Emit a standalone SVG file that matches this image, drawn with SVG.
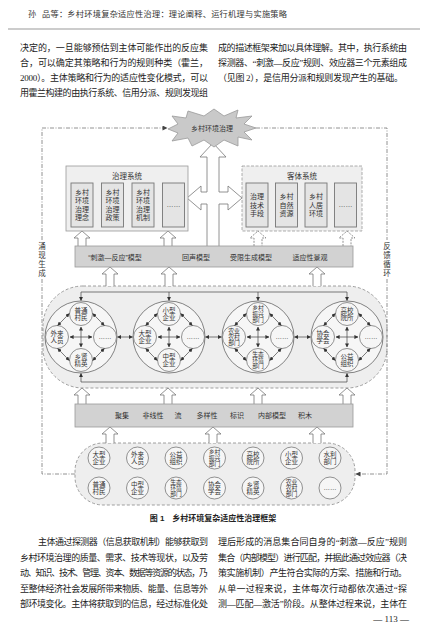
<svg xmlns="http://www.w3.org/2000/svg" width="427" height="630" viewBox="0 0 427 630">
<defs>
<style>
.body{font-family:"Liberation Serif","Noto Sans CJK SC",serif;font-size:9px;fill:#222}
.hdr{font-family:"Liberation Serif","Noto Sans CJK SC",serif;font-size:8.2px;fill:#333}
.d{font-family:"Liberation Sans","Noto Sans CJK SC",sans-serif;fill:#333;text-anchor:middle;font-size:7px}
.s{font-size:6.5px}
.s3{font-size:5.8px}
.cap{font-family:"Liberation Sans","Noto Sans CJK SC",sans-serif;font-size:8px;font-weight:bold;fill:#222;text-anchor:middle}
.sys{fill:#efefef;stroke:#999;stroke-width:0.8}
.sysd{fill:#efefef;stroke:#999;stroke-width:0.8;stroke-dasharray:3 1.5}
.inner{fill:#e4e4e4;stroke:#777;stroke-width:0.9}
.bar{fill:#d2d2d2;stroke:#9a9a9a;stroke-width:0.8}
.hol{fill:#fff;stroke:#777;stroke-width:0.8}
.hold{fill:#fff;stroke:#777;stroke-width:0.8;stroke-dasharray:2 1.2}
.region{fill:#eeeeee;stroke:#888;stroke-width:0.8;stroke-dasharray:3 2}
.big{fill:#f6f6f6;stroke:#666;stroke-width:0.8}
.sm{fill:#f6f6f6;stroke:#666;stroke-width:0.7}
.ar{fill:none;stroke:#444;stroke-width:0.7;marker-start:url(#ah);marker-end:url(#ah)}
.ar1{fill:none;stroke:#444;stroke-width:0.7;marker-end:url(#ah)}
.ln{fill:none;stroke:#444;stroke-width:0.7}
.loop{fill:none;stroke:#777;stroke-width:0.8;stroke-dasharray:4 1.5 1 1.5}
</style>
<marker id="ah" viewBox="0 0 10 10" refX="9" refY="5" markerWidth="4" markerHeight="4" markerUnits="userSpaceOnUse" orient="auto-start-reverse"><path d="M0,0 L10,5 L0,10 z" fill="#333"/></marker>
<marker id="al" viewBox="0 0 10 10" refX="9" refY="5" markerWidth="6" markerHeight="5" markerUnits="userSpaceOnUse" orient="auto"><path d="M0,0 L10,5 L0,10 z" fill="#444"/></marker>
</defs>
<rect width="427" height="630" fill="#fff"/>

<g id="page-text">
<text class="hdr" x="28" y="17">孙</text>
<text class="hdr" x="42" y="17" textLength="245" lengthAdjust="spacing">品等：乡村环境复杂适应性治理：理论阐释、运行机理与实施策略</text>
<line x1="8" y1="29" x2="420" y2="29" stroke="#999" stroke-width="1.2"/>
<text class="body" x="20" y="50.5" textLength="188" lengthAdjust="spacing">决定的，一旦能够预估到主体可能作出的反应集</text>
<text class="body" x="20" y="65.5" textLength="188" lengthAdjust="spacing">合，可以确定其策略和行为的规则种类（霍兰，</text>
<text class="body" x="20" y="80.5" textLength="188" lengthAdjust="spacing">2000）。主体策略和行为的适应性变化模式，可以</text>
<text class="body" x="20" y="95.5" textLength="188" lengthAdjust="spacing">用霍兰构建的由执行系统、信用分派、规则发现组</text>
<text class="body" x="218" y="50.5" textLength="189" lengthAdjust="spacing">成的描述框架来加以具体理解。其中，执行系统由</text>
<text class="body" x="218" y="65.5" textLength="189" lengthAdjust="spacing">探测器、“刺激—反应”规则、效应器三个元素组成</text>
<text class="body" x="218" y="80.5" textLength="185" lengthAdjust="spacing">（见图 2），是信用分派和规则发现产生的基础。</text>
<text class="cap" x="213" y="521">图 1　乡村环境复杂适应性治理框架</text>
<text class="body" x="38" y="545" textLength="170" lengthAdjust="spacing">主体通过探测器（信息获取机制）能够获取到</text>
<text class="body" x="20" y="560.5" textLength="188" lengthAdjust="spacing">乡村环境治理的质量、需求、技术等现状，以及劳</text>
<text class="body" x="20" y="576" textLength="188" lengthAdjust="spacing">动、知识、技术、管理、资本、数据等资源的状态，乃</text>
<text class="body" x="20" y="591.5" textLength="188" lengthAdjust="spacing">至整体经济社会发展所带来物质、能量、信息等外</text>
<text class="body" x="20" y="607" textLength="188" lengthAdjust="spacing">部环境变化。主体将获取到的信息，经过标准化处</text>
<text class="body" x="218" y="545" textLength="189" lengthAdjust="spacing">理后形成的消息集合同自身的“刺激—反应”规则</text>
<text class="body" x="218" y="560.5" textLength="189" lengthAdjust="spacing">集合（内部模型）进行匹配，并据此通过效应器（决</text>
<text class="body" x="218" y="576" textLength="189" lengthAdjust="spacing">策实施机制）产生符合实际的方案、措施和行动。</text>
<text class="body" x="218" y="591.5" textLength="189" lengthAdjust="spacing">从单一过程来说，主体每次行动都依次通过“探</text>
<text class="body" x="218" y="607" textLength="189" lengthAdjust="spacing">测—匹配—激活”阶段。从整体过程来说，主体在</text>
<text class="body" x="409" y="622" text-anchor="end">— 113 —</text>
</g>

<g id="region-middle"><rect class="region" x="43" y="286" width="344" height="102" rx="40"/></g>
<g id="region-bottom"><rect class="region" x="75" y="443" width="280" height="62" rx="28"/></g>

<g id="connectors">
<path class="loop" d="M75,474 H42 V279"/>
<path class="loop" d="M42,240 V128 H167" marker-end="url(#al)"/>
<path class="loop" d="M256,128 H387 V240"/>
<path class="loop" d="M387,279 V474 H356" marker-end="url(#al)"/>
<text class="d" style="font-size:7.5px" x="42"><tspan x="42" y="248.8">涌</tspan><tspan x="42" y="257.8">现</tspan><tspan x="42" y="266.8">生</tspan><tspan x="42" y="275.8">成</tspan></text>
<text class="d" style="font-size:7.5px" x="387"><tspan x="387" y="248.8">反</tspan><tspan x="387" y="257.8">馈</tspan><tspan x="387" y="266.8">循</tspan><tspan x="387" y="275.8">环</tspan></text>
<path class="hol" d="M207,246 V204 H201 V210 L187,198 L201,186 V192 H207 V157 H200 L213,143 L226,157 H219 V192 H228 V186 L242,198 L228,210 V204 H219 V246"/>
<path class="hol" d="M78,246 V238 H74 L82,231 L90,238 H86 V246"/>
<path class="hol" d="M164,246 V238 H160 L168,231 L176,238 H172 V246"/>
<path class="hold" d="M254,246 V238 H250 L258,231 L266,238 H262 V246"/>
<path class="hold" d="M343,246 V238 H339 L347,231 L355,238 H351 V246"/>
<path class="hol" d="M106,286 V274 H102 L110,267 L118,274 H114 V286"/>
<path class="hol" d="M165,286 V274 H161 L169,267 L177,274 H173 V286"/>
<path class="hol" d="M313,286 V274 H309 L317,267 L325,274 H321 V286"/>
<path class="hol" d="M78,404 V395 H74 L82,388 L90,395 H86 V404"/>
<path class="hol" d="M164,404 V395 H160 L168,388 L176,395 H172 V404"/>
<path class="hol" d="M254,404 V395 H250 L258,388 L266,395 H262 V404"/>
<path class="hol" d="M343,404 V395 H339 L347,388 L355,395 H351 V404"/>
<path class="hol" d="M106,443 V434 H102 L110,427 L118,434 H114 V443"/>
<path class="hol" d="M209,443 V434 H205 L213,427 L221,434 H217 V443"/>
<path class="hol" d="M313,443 V434 H309 L317,427 L325,434 H321 V443"/>
<path class="ln" d="M81,292 H347"/>
<path class="ar1" d="M81,292 V300.5"/>
<path class="ar1" d="M169,292 V300.5"/>
<path class="ar1" d="M258,292 V300.5"/>
<path class="ar1" d="M347,292 V300.5"/>
<path class="ln" d="M81,382 H347"/>
<path class="ar1" d="M81,382 V373.5"/>
<path class="ar1" d="M347,382 V373.5"/>
<path class="ar" d="M117.5,337 H132.5"/>
<path class="ar" d="M205.5,337 H221.5"/>
<path class="ar" d="M294.5,337 H310.5"/>
</g>

<g id="cloud">
<polygon points="256,128 244,124 252,116 236,118 238,110 224,116 214,109 204,116 188,111 186,118 172,116 178,124 168,129 178,133 172,141 188,138 192,146 204,140 214,147 224,140 238,146 238,137 252,140 244,132" fill="#c9c9c9" stroke="#999" stroke-width="0.8"/>
<text class="d" x="212" y="131">乡村环境治理</text>
</g>

<g id="governance-system">
<rect class="sys" x="66" y="166" width="122" height="65"/>
<text class="d" style="font-size:7.5px" x="127" y="178.5">治理系统</text>
<rect class="inner" x="71" y="183" width="22" height="44"/>
<text class="d"><tspan x="82" y="194.5">乡村</tspan><tspan x="82" y="203">环境</tspan><tspan x="82" y="211.5">治理</tspan><tspan x="82" y="220">理念</tspan></text>
<rect class="inner" x="101.5" y="183" width="22" height="44"/>
<text class="d"><tspan x="112.5" y="194.5">乡村</tspan><tspan x="112.5" y="203">环境</tspan><tspan x="112.5" y="211.5">治理</tspan><tspan x="112.5" y="220">政策</tspan></text>
<rect class="inner" x="132" y="183" width="22" height="44"/>
<text class="d"><tspan x="143" y="194.5">乡村</tspan><tspan x="143" y="203">环境</tspan><tspan x="143" y="211.5">治理</tspan><tspan x="143" y="220">机制</tspan></text>
<rect class="inner" x="162.5" y="183" width="22" height="44"/>
<text class="d" x="173.5" y="207">……</text>
</g>

<g id="object-system">
<rect class="sysd" x="242" y="166" width="120" height="65"/>
<text class="d" style="font-size:7.5px" x="302" y="178.5">客体系统</text>
<rect class="inner" x="246" y="183" width="22" height="44"/>
<text class="d"><tspan x="257" y="199">治理</tspan><tspan x="257" y="207.5">技术</tspan><tspan x="257" y="216">手段</tspan></text>
<rect class="inner" x="275.5" y="183" width="22" height="44"/>
<text class="d"><tspan x="286.5" y="199">乡村</tspan><tspan x="286.5" y="207.5">自然</tspan><tspan x="286.5" y="216">资源</tspan></text>
<rect class="inner" x="305" y="183" width="22" height="44"/>
<text class="d"><tspan x="316" y="199">乡村</tspan><tspan x="316" y="207.5">人居</tspan><tspan x="316" y="216">环境</tspan></text>
<rect class="inner" x="334.5" y="183" width="22" height="44"/>
<text class="d" x="345.5" y="207">……</text>
</g>

<g id="model-bar">
<rect class="bar" x="75" y="246" width="278" height="21"/>
<text class="d" x="115" y="259.5">“刺激—反应”模型</text>
<text class="d" x="196" y="259.5">回声模型</text>
<text class="d" x="251" y="259.5">受限生成模型</text>
<text class="d" x="310" y="259.5">适应性景观</text>
</g>

<g id="feature-bar">
<rect class="bar" x="75" y="404" width="278" height="23"/>
<text class="d" x="122" y="418">聚集</text>
<text class="d" x="153" y="418">非线性</text>
<text class="d" x="178" y="418">流</text>
<text class="d" x="207" y="418">多样性</text>
<text class="d" x="237" y="418">标识</text>
<text class="d" x="272" y="418">内部模型</text>
<text class="d" x="305" y="418">积木</text>
</g>

<g id="group-villagers">
<circle class="big" cx="81" cy="337" r="36"/>
<circle class="sm" cx="81" cy="314" r="11.5"/><text class="d s"><tspan x="81" y="312.8">普通</tspan><tspan x="81" y="319.8">村民</tspan></text>
<circle class="sm" cx="57" cy="337" r="11.5"/><text class="d s"><tspan x="57" y="335.8">外来</tspan><tspan x="57" y="342.8">人员</tspan></text>
<circle class="sm" cx="105" cy="337" r="11.5"/><text class="d s" x="105" y="339">……</text>
<circle class="sm" cx="81" cy="360" r="11.5"/><text class="d s"><tspan x="81" y="358.8">乡贤</tspan><tspan x="81" y="365.8">精英</tspan></text>
<path class="ar" d="M81,327 V347"/><path class="ar" d="M70,337 H92"/>
<path class="ar" d="M69.2,313.6 L57.7,325.5"/><path class="ar" d="M92.8,313.6 L104.3,325.5"/>
<path class="ar" d="M69.2,360.4 L57.7,348.5"/><path class="ar" d="M92.8,360.4 L104.3,348.5"/>
</g>

<g id="group-enterprises">
<circle class="big" cx="169" cy="337" r="36"/>
<circle class="sm" cx="169" cy="314" r="11.5"/><text class="d s"><tspan x="169" y="312.8">小型</tspan><tspan x="169" y="319.8">企业</tspan></text>
<circle class="sm" cx="145" cy="337" r="11.5"/><text class="d s"><tspan x="145" y="335.8">大型</tspan><tspan x="145" y="342.8">企业</tspan></text>
<circle class="sm" cx="193" cy="337" r="11.5"/><text class="d s" x="193" y="339">……</text>
<circle class="sm" cx="169" cy="360" r="11.5"/><text class="d s"><tspan x="169" y="358.8">中型</tspan><tspan x="169" y="365.8">企业</tspan></text>
<path class="ar" d="M169,327 V347"/><path class="ar" d="M158,337 H180"/>
<path class="ar" d="M157.2,313.6 L145.7,325.5"/><path class="ar" d="M180.8,313.6 L192.3,325.5"/>
<path class="ar" d="M157.2,360.4 L145.7,348.5"/><path class="ar" d="M180.8,360.4 L192.3,348.5"/>
</g>

<g id="group-government">
<circle class="big" cx="258" cy="337" r="36"/>
<circle class="sm" cx="258" cy="314" r="11.5"/><text class="d s3"><tspan x="258" y="309.8">乡村</tspan><tspan x="258" y="316.1">振兴</tspan><tspan x="258" y="322.4">部门</tspan></text>
<circle class="sm" cx="234" cy="337" r="11.5"/><text class="d s3"><tspan x="234" y="332.8">农业</tspan><tspan x="234" y="339.1">农村</tspan><tspan x="234" y="345.4">部门</tspan></text>
<circle class="sm" cx="282" cy="337" r="11.5"/><text class="d s" x="282" y="339">……</text>
<circle class="sm" cx="258" cy="360" r="11.5"/><text class="d s3"><tspan x="258" y="355.8">生态</tspan><tspan x="258" y="362.1">环境</tspan><tspan x="258" y="368.4">部门</tspan></text>
<path class="ar" d="M258,327 V347"/><path class="ar" d="M247,337 H269"/>
<path class="ar" d="M246.2,313.6 L234.7,325.5"/><path class="ar" d="M269.8,313.6 L281.3,325.5"/>
<path class="ar" d="M246.2,360.4 L234.7,348.5"/><path class="ar" d="M269.8,360.4 L281.3,348.5"/>
</g>

<g id="group-institutions">
<circle class="big" cx="347" cy="337" r="36"/>
<circle class="sm" cx="347" cy="314" r="11.5"/><text class="d s"><tspan x="347" y="312.8">高校</tspan><tspan x="347" y="319.8">院所</tspan></text>
<circle class="sm" cx="323" cy="337" r="11.5"/><text class="d s"><tspan x="323" y="335.8">协会</tspan><tspan x="323" y="342.8">学会</tspan></text>
<circle class="sm" cx="371" cy="337" r="11.5"/><text class="d s" x="371" y="339">……</text>
<circle class="sm" cx="347" cy="360" r="11.5"/><text class="d s"><tspan x="347" y="358.8">公益</tspan><tspan x="347" y="365.8">组织</tspan></text>
<path class="ar" d="M347,327 V347"/><path class="ar" d="M336,337 H358"/>
<path class="ar" d="M335.2,313.6 L323.7,325.5"/><path class="ar" d="M358.8,313.6 L370.3,325.5"/>
<path class="ar" d="M335.2,360.4 L323.7,348.5"/><path class="ar" d="M358.8,360.4 L370.3,348.5"/>
</g>

<g id="agents">
<g id="a1"><circle class="sm" cx="99" cy="458" r="11"/><text class="d s"><tspan x="99" y="456.8">大型</tspan><tspan x="99" y="463.8">企业</tspan></text></g>
<g id="a2"><circle class="sm" cx="137.5" cy="458" r="11"/><text class="d s"><tspan x="137.5" y="456.8">外来</tspan><tspan x="137.5" y="463.8">人员</tspan></text></g>
<g id="a3"><circle class="sm" cx="176" cy="458" r="11"/><text class="d s"><tspan x="176" y="456.8">公益</tspan><tspan x="176" y="463.8">组织</tspan></text></g>
<g id="a4"><circle class="sm" cx="214.5" cy="458" r="11"/><text class="d s3"><tspan x="214.5" y="453.8">乡村</tspan><tspan x="214.5" y="460.1">振兴</tspan><tspan x="214.5" y="466.4">部门</tspan></text></g>
<g id="a5"><circle class="sm" cx="253" cy="458" r="11"/><text class="d s"><tspan x="253" y="456.8">高校</tspan><tspan x="253" y="463.8">院所</tspan></text></g>
<g id="a6"><circle class="sm" cx="291.5" cy="458" r="11"/><text class="d s"><tspan x="291.5" y="456.8">小型</tspan><tspan x="291.5" y="463.8">企业</tspan></text></g>
<g id="a7"><circle class="sm" cx="330" cy="458" r="11"/><text class="d s"><tspan x="330" y="456.8">水利</tspan><tspan x="330" y="463.8">部门</tspan></text></g>
<g id="a8"><circle class="sm" cx="99" cy="488" r="11"/><text class="d s"><tspan x="99" y="486.8">普通</tspan><tspan x="99" y="493.8">村民</tspan></text></g>
<g id="a9"><circle class="sm" cx="137.5" cy="488" r="11"/><text class="d s"><tspan x="137.5" y="486.8">中型</tspan><tspan x="137.5" y="493.8">企业</tspan></text></g>
<g id="a10"><circle class="sm" cx="176" cy="488" r="11"/><text class="d s3"><tspan x="176" y="483.8">生态</tspan><tspan x="176" y="490.1">环境</tspan><tspan x="176" y="496.4">部门</tspan></text></g>
<g id="a11"><circle class="sm" cx="214.5" cy="488" r="11"/><text class="d s"><tspan x="214.5" y="486.8">协会</tspan><tspan x="214.5" y="493.8">学会</tspan></text></g>
<g id="a12"><circle class="sm" cx="253" cy="488" r="11"/><text class="d s"><tspan x="253" y="486.8">乡贤</tspan><tspan x="253" y="493.8">精英</tspan></text></g>
<g id="a13"><circle class="sm" cx="291.5" cy="488" r="11"/><text class="d s3"><tspan x="291.5" y="483.8">农业</tspan><tspan x="291.5" y="490.1">农村</tspan><tspan x="291.5" y="496.4">部门</tspan></text></g>
<g id="a14"><circle class="sm" cx="330" cy="488" r="11"/><text class="d s" x="330" y="490">……</text></g>
</g>
</svg>
